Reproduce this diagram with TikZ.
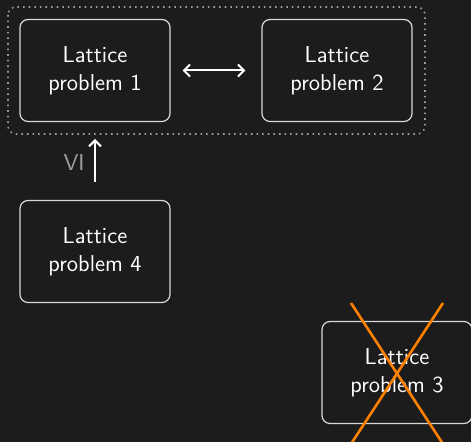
\documentclass[tikz,border=0pt]{standalone}
\usetikzlibrary{arrows.meta}
\definecolor{bg}{HTML}{1C1C1C}
\definecolor{boxline}{HTML}{D8D8D8}
\definecolor{dotline}{HTML}{9A9AAA}
\definecolor{labelgray}{HTML}{A0A0A0}
\definecolor{crossorange}{HTML}{FF8000}
\begin{document}
\begin{tikzpicture}[x=0.5pt,y=-0.5pt,
  probbox/.style={draw=boxline,line width=0.6pt,rounded corners=4pt,fill=bg,
    minimum width=75pt,minimum height=51pt,align=center,text=white,
    font=\sffamily\fontsize{11.5}{14}\selectfont},
  groupbox/.style={draw=dotline,dotted,line width=0.8pt,rounded corners=4pt},
  arr/.style={draw=white,line width=1pt,-{Straight Barb[length=3pt,width=6pt]}},
  cross/.style={draw=crossorange,line width=1.3pt}]
\fill[bg] (0,0) rectangle (471,442);
\useasboundingbox (0,0) rectangle (471,442);
\draw[groupbox] (8,7) rectangle (425,134);
\node[probbox] (p1) at (95,70.5) {Lattice\\problem 1};
\node[probbox] (p2) at (337,70.5) {Lattice\\problem 2};
\node[probbox] (p4) at (95,251.5) {Lattice\\problem 4};
\node[probbox] (p3) at (397,372.5) {Lattice\\problem 3};
\draw[arr,{Straight Barb[length=3pt,width=6pt]}-{Straight Barb[length=3pt,width=6pt]}] ([xshift=6pt]p1.east) -- ([xshift=-8pt]p2.west);
\coordinate (a4) at (95,182);
\coordinate (a1) at (95,139);
\draw[arr] (a4) -- (a1);
\node[text=labelgray,font=\sffamily\fontsize{11.5}{14}\selectfont] (vi) at (74,163) {VI};
\coordinate (c1) at (351,303);
\coordinate (c2) at (443,444);
\coordinate (c3) at (443,303);
\coordinate (c4) at (351,444);
\draw[cross] (c1) -- (c2);
\draw[cross] (c3) -- (c4);
\end{tikzpicture}
\end{document}
